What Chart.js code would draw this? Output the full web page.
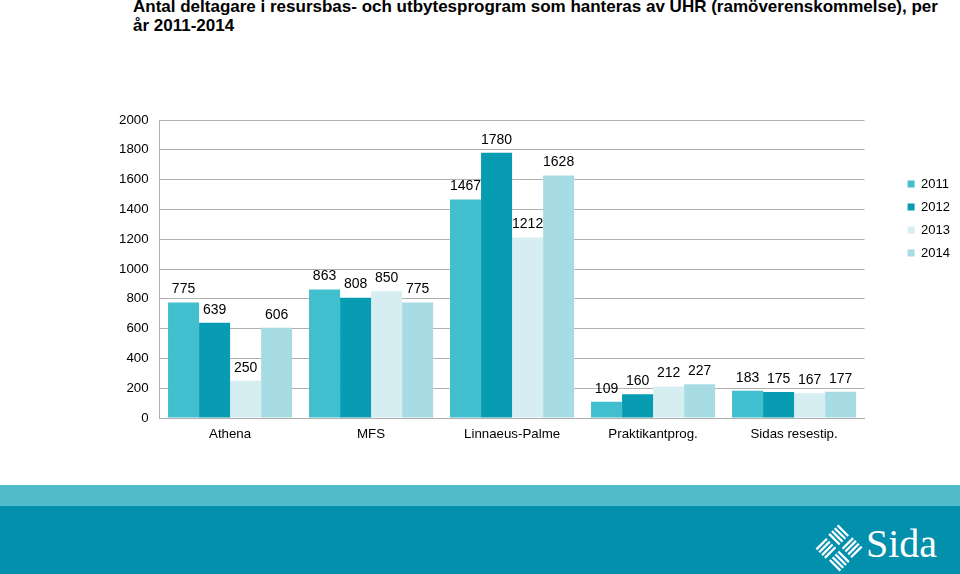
<!DOCTYPE html>
<html>
<head>
<meta charset="utf-8">
<script src="https://cdn.jsdelivr.net/npm/chart.js@4.4.1/dist/chart.umd.min.js"></script>
<style>
    body { margin: 0; width: 960px; height: 574px; overflow: hidden; background: #fff; font-family: "Liberation Sans", Arial, sans-serif; position: relative; }
    #titel { position: absolute; left: 133px; top: -2px; width: 822px; font-size: 17px; font-weight: bold; line-height: 18.5px; color: #000; }
    #myChart { position: absolute; left: 0; top: 0; }
    #rand { position: absolute; left: 0; top: 485px; width: 960px; height: 21px; background: #52bdca; }
    #fot { position: absolute; left: 0; top: 506px; width: 960px; height: 68px; background: #0290ad; }
    #logo { position: absolute; left: 815px; top: 524px; }
    #sida { position: absolute; left: 866px; top: 524px; font-family: "Liberation Serif", "DejaVu Serif", serif; font-size: 40px; color: #fff; line-height: 40px; }
</style>
</head>
<body>
<div id="titel">Antal deltagare i resursbas- och utbytesprogram som hanteras av UHR (ramöverenskommelse), per år 2011-2014</div>
<canvas id="myChart" width="960" height="480"></canvas>
<div id="rand"></div>
<div id="fot"></div>
<svg id="logo" width="48" height="48" viewBox="-24 -24 48 48">
    <g transform="rotate(45)" stroke="#fff" stroke-width="2.3">
        <!-- fyra rutor med ränder åt olika håll -->
        <line x1="-17" y1="-15" x2="-2" y2="-15"/><line x1="-17" y1="-11" x2="-2" y2="-11"/><line x1="-17" y1="-7" x2="-2" y2="-7"/><line x1="-17" y1="-3" x2="-2" y2="-3"/>
        <line x1="3" y1="-17" x2="3" y2="-2"/><line x1="7" y1="-17" x2="7" y2="-2"/><line x1="11" y1="-17" x2="11" y2="-2"/><line x1="15" y1="-17" x2="15" y2="-2"/>
        <line x1="-15" y1="2" x2="-15" y2="17"/><line x1="-11" y1="2" x2="-11" y2="17"/><line x1="-7" y1="2" x2="-7" y2="17"/><line x1="-3" y1="2" x2="-3" y2="17"/>
        <line x1="2" y1="3" x2="17" y2="3"/><line x1="2" y1="7" x2="17" y2="7"/><line x1="2" y1="11" x2="17" y2="11"/><line x1="2" y1="15" x2="17" y2="15"/>
    </g>
</svg>
<div id="sida">Sida</div>
<script>
    // Data
    var kategorier = ['Athena', 'MFS', 'Linnaeus-Palme', 'Praktikantprog.', 'Sidas resestip.'];
    var data2011 = [775, 863, 1467, 109, 183];
    var data2012 = [639, 808, 1780, 160, 175];
    var data2013 = [250, 850, 1212, 212, 167];
    var data2014 = [606, 775, 1628, 227, 177];
    var yTicks = [0, 200, 400, 600, 800, 1000, 1200, 1400, 1600, 1800, 2000];

    var typsnitt = '"Liberation Sans", Arial, sans-serif';

    // Skriv värdet ovanför varje stapel
    var vardeEtiketter = {
        id: 'vardeEtiketter',
        afterDatasetsDraw: function(chart) {
            var ctx = chart.ctx;
            ctx.save();
            ctx.font = '14px ' + typsnitt;
            ctx.fillStyle = '#000';
            ctx.textAlign = 'center';
            ctx.textBaseline = 'middle';
            chart.data.datasets.forEach(function(ds, i) {
                chart.getDatasetMeta(i).data.forEach(function(bar, j) {
                    ctx.fillText(ds.data[j], bar.x, bar.y - 13);
                });
            });
            ctx.restore();
        }
    };

    var ctx = document.getElementById('myChart').getContext('2d');
    window.myChart = new Chart(ctx, {
        type: 'bar',
        data: {
            labels: kategorier,
            datasets: [{
                    label: '2011',
                    data: data2011,
                    backgroundColor: '#41bfce'
                },
                {
                    label: '2012',
                    data: data2012,
                    backgroundColor: '#079cb2'
                },
                {
                    label: '2013',
                    data: data2013,
                    backgroundColor: '#d6edf2'
                },
                {
                    label: '2014',
                    data: data2014,
                    backgroundColor: '#a8dce4'
                }
            ]
        },
        options: {
            responsive: false,
            animation: false,
            categoryPercentage: 0.88,
            barPercentage: 1,
            layout: {
                padding: { top: 120, left: 108, right: 0, bottom: 30 }
            },
            plugins: {
                legend: {
                    position: 'right',
                    align: 'start',
                    title: {
                        display: true,
                        text: ' ',
                        font: { size: 10 },
                        padding: { top: 35.5, bottom: 0 }
                    },
                    labels: {
                        boxWidth: 7,
                        boxHeight: 7,
                        padding: 10,
                        color: '#000',
                        font: { size: 13, family: typsnitt }
                    }
                },
                tooltip: { enabled: false }
            },
            scales: {
                x: {
                    grid: { display: false, drawTicks: false },
                    border: { color: '#b0b0b0' },
                    ticks: {
                        padding: 8,
                        color: '#000',
                        font: { size: 13.3, family: typsnitt }
                    }
                },
                y: {
                    min: 0,
                    max: 2000,
                    afterBuildTicks: function(scale) {
                        scale.ticks = yTicks.map(function(v) { return { value: v }; });
                    },
                    grid: { color: '#b0b0b0', drawTicks: false },
                    border: { color: '#b0b0b0' },
                    ticks: {
                        padding: 11,
                        color: '#000',
                        font: { size: 13.3, family: typsnitt },
                        callback: function(value) {
                            return String(value);
                        }
                    }
                },
                // tom axel som ger luft mellan diagram och förklaring
                y2: {
                    position: 'right',
                    grid: { display: false },
                    border: { display: false },
                    ticks: { display: false },
                    afterFit: function(scale) {
                        scale.width = 33;
                    }
                }
            }
        },
        plugins: [vardeEtiketter]
    });
</script>
</body>
</html>
